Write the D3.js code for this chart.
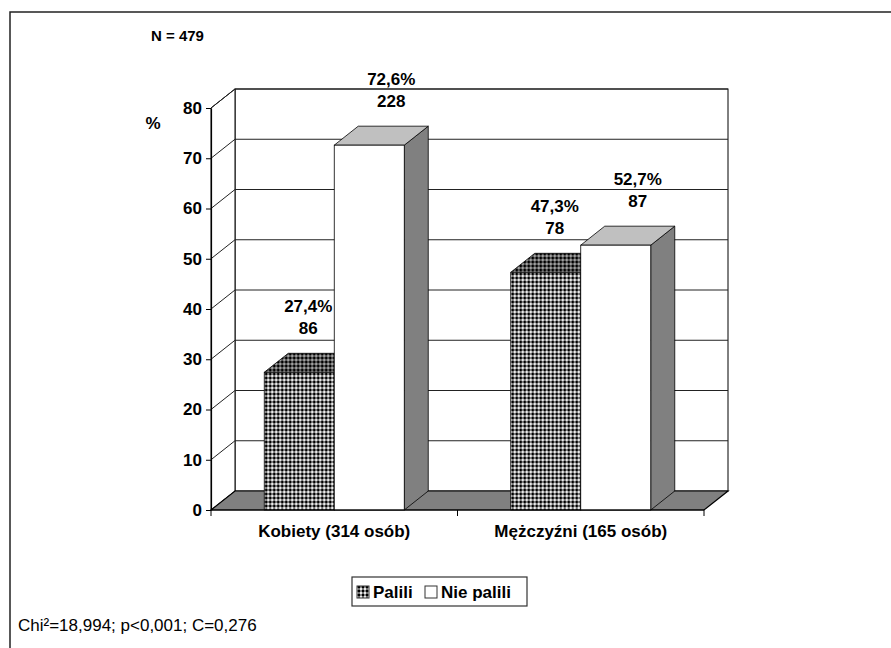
<!DOCTYPE html>
<html>
<head>
<meta charset="utf-8">
<script src="https://cdn.jsdelivr.net/npm/d3@7"></script>
<style>
  body { margin: 0; background: #fff; }
  text { font-family: "Liberation Sans", Arial, sans-serif; fill: #000; }
</style>
</head>
<body>
<svg id="chart" width="891" height="648"></svg>
<script>
// data
const categories = ["Kobiety (314 osób)", "Mężczyźni (165 osób)"];
const seriesNames = ["Palili", "Nie palili"];
const percentPalili = [27.4, 47.3];
const percentNiePalili = [72.6, 52.7];
const countPalili = [86, 78];
const countNiePalili = [228, 87];
const yTicks = [0, 10, 20, 30, 40, 50, 60, 70, 80];
const totalN = 479;
const statsText = "Chi²=18,994; p<0,001; C=0,276";

const rows = categories.map((c, i) => ({
  cat: c,
  bars: [
    { name: seriesNames[0], pct: percentPalili[i], n: countPalili[i] },
    { name: seriesNames[1], pct: percentNiePalili[i], n: countNiePalili[i] }
  ]
}));

// 3d depth of walls and bars
const dx = 24, dy = -19;
const left = 211, right = 704;
const fmt = v => d3.format(".1f")(v).replace(".", ",") + "%";

const svg = d3.select("#chart");

// pattern for "Palili"
const defs = svg.append("defs");
function dots(id, bg) {
  const p = defs.append("pattern")
    .attr("id", id)
    .attr("patternUnits", "userSpaceOnUse")
    .attr("width", 4).attr("height", 4);
  p.append("rect").attr("width", 4).attr("height", 4).attr("fill", bg);
  p.append("circle").attr("cx", 2).attr("cy", 2).attr("r", 1.65).attr("fill", "#000");
}
dots("dotFront", "#fff");
dots("dotTop", "#b0b0b0");

// outer frame
svg.append("path")
  .attr("d", "M10,648 L10,12 L891,12")
  .attr("fill", "none").attr("stroke", "#222").attr("stroke-width", 1.5);

const y = d3.scaleLinear().domain([0, 80]).range([510, 108]);
const x = d3.scaleBand().domain(categories).range([left, right])
  .paddingInner(0.432).paddingOuter(0.216);
const xs = d3.scaleBand().domain(seriesNames).range([0, x.bandwidth()]);

const y0 = y(0), yTop = y(80);

// back wall and left wall
svg.append("rect")
  .attr("x", left + dx).attr("y", yTop + dy)
  .attr("width", right - left).attr("height", y0 - yTop)
  .attr("fill", "#fff").attr("stroke", "#000");
svg.append("path")
  .attr("d", `M${left},${yTop} L${left + dx},${yTop + dy} L${left + dx},${y0 + dy} L${left},${y0} Z`)
  .attr("fill", "#fff").attr("stroke", "#000");

// gridlines
svg.append("g").selectAll("path")
  .data(yTicks.filter(v => v > 0))
  .join("path")
  .attr("d", v => `M${left},${y(v)} L${left + dx},${y(v) + dy} L${right + dx},${y(v) + dy}`)
  .attr("fill", "none").attr("stroke", "#222").attr("stroke-width", 1);

// floor
svg.append("path")
  .attr("d", `M${left},${y0} L${right},${y0} L${right + dx},${y0 + dy} L${left + dx},${y0 + dy} Z`)
  .attr("fill", "#808080").attr("stroke", "#000").attr("stroke-width", 1.2);

// bars
const g = svg.append("g").selectAll("g")
  .data(rows)
  .join("g")
  .attr("transform", d => `translate(${x(d.cat)},0)`);

const bar = g.selectAll("g")
  .data(d => d.bars)
  .join("g");

bar.append("path") // side
  .attr("d", d => {
    const x1 = xs(d.name) + xs.bandwidth(), t = y(d.pct);
    return `M${x1},${t} L${x1 + dx},${t + dy} L${x1 + dx},${y0 + dy} L${x1},${y0} Z`;
  })
  .attr("fill", "#808080").attr("stroke", "#000").attr("stroke-width", 0.8);
bar.append("path") // top
  .attr("d", d => {
    const x0 = xs(d.name), x1 = x0 + xs.bandwidth(), t = y(d.pct);
    return `M${x0},${t} L${x0 + dx},${t + dy} L${x1 + dx},${t + dy} L${x1},${t} Z`;
  })
  .attr("fill", d => d.name === seriesNames[0] ? "url(#dotTop)" : "#c0c0c0")
  .attr("stroke", "#000").attr("stroke-width", 0.8);
bar.append("rect") // front
  .attr("x", d => xs(d.name))
  .attr("y", d => y(d.pct))
  .attr("width", xs.bandwidth())
  .attr("height", d => y0 - y(d.pct))
  .attr("fill", d => d.name === seriesNames[0] ? "url(#dotFront)" : "#fff")
  .attr("stroke", "#000").attr("stroke-width", 0.8);

// value labels
const nudge = { "Palili": -3, "Nie palili": 10 };
const lab = bar.append("text")
  .attr("text-anchor", "middle")
  .attr("font-size", 17).attr("font-weight", "bold")
  .attr("transform", d => `translate(${xs(d.name) + xs.bandwidth() / 2 + dx / 2 + nudge[d.name]},${y(d.pct) + dy - 19})`);
lab.append("tspan").attr("x", 0).attr("y", -22).text(d => fmt(d.pct));
lab.append("tspan").attr("x", 0).attr("y", 0).text(d => d.n);

// y axis
const yAxis = svg.append("g")
  .attr("transform", `translate(${left},0)`)
  .call(d3.axisLeft(y).tickValues(yTicks).tickSize(5).tickSizeOuter(0).tickPadding(4));
yAxis.select(".domain").attr("stroke", "#000").attr("stroke-width", 1.2);
yAxis.selectAll("text").attr("font-size", 17).attr("font-weight", "bold")
  .attr("font-family", '"Liberation Sans", Arial, sans-serif');

// category separators and labels
svg.append("g").selectAll("line")
  .data(d3.range(categories.length + 1))
  .join("line")
  .attr("x1", i => left + i * x.step()).attr("x2", i => left + i * x.step())
  .attr("y1", y0).attr("y2", y0 + 6)
  .attr("stroke", "#000");
svg.append("line")
  .attr("x1", left).attr("x2", right).attr("y1", y0).attr("y2", y0)
  .attr("stroke", "#000").attr("stroke-width", 1.2);
svg.append("g").selectAll("text")
  .data(categories)
  .join("text")
  .attr("x", d => x(d) + x.bandwidth() / 2)
  .attr("y", 537)
  .attr("text-anchor", "middle")
  .attr("font-size", 17).attr("font-weight", "bold")
  .text(d => d);

// annotations
svg.append("text").attr("x", 151).attr("y", 41)
  .attr("font-size", 15).attr("font-weight", "bold")
  .text("N = " + totalN);
svg.append("text").attr("x", 153).attr("y", 129)
  .attr("text-anchor", "middle")
  .attr("font-size", 17).attr("font-weight", "bold")
  .text("%");
svg.append("text").attr("x", 18).attr("y", 631)
  .attr("font-size", 17)
  .text(statsText);

// legend
const leg = svg.append("g").attr("transform", "translate(352,577)");
leg.append("rect").attr("width", 175).attr("height", 29)
  .attr("fill", "#fff").attr("stroke", "#333").attr("stroke-width", 1.2);
const items = [
  { name: seriesNames[0], fill: "url(#dotFront)", x: 5 },
  { name: seriesNames[1], fill: "#fff", x: 73 }
];
const li = leg.selectAll("g.item").data(items).join("g")
  .attr("class", "item")
  .attr("transform", d => `translate(${d.x},0)`);
li.append("rect").attr("y", 9).attr("width", 12).attr("height", 12)
  .attr("fill", d => d.fill).attr("stroke", "#333");
li.append("text").attr("x", 16).attr("y", 21)
  .attr("font-size", 17).attr("font-weight", "bold")
  .text(d => d.name);
</script>
</body>
</html>
